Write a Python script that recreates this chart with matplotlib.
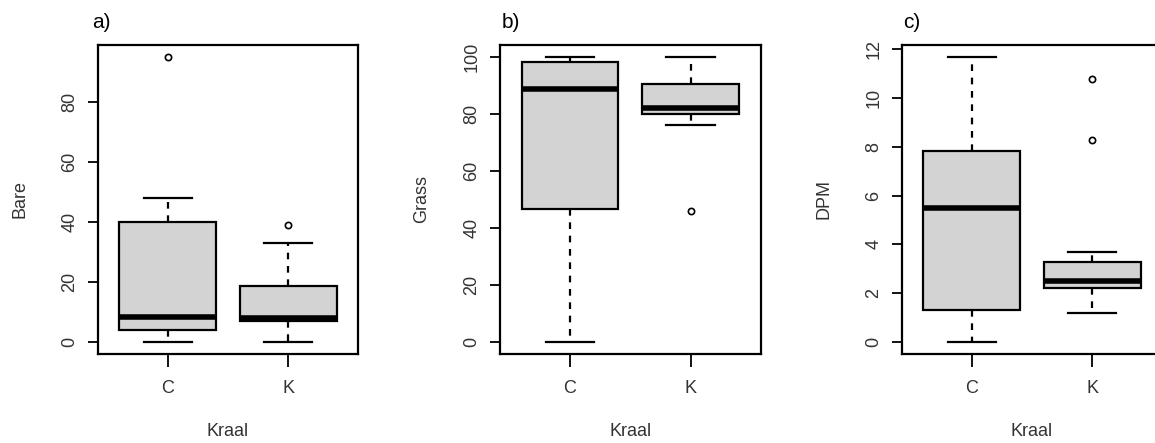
import matplotlib
matplotlib.use("Agg")
import matplotlib.pyplot as plt

plt.rcParams["font.family"] = ["Liberation Sans", "DejaVu Sans"]

# box statistics: one entry per group (C, K)
groups = ["C", "K"]
panel_tags = ["a)", "b)", "c)"]
ylabels = ["Bare", "Grass", "DPM"]

bare_whislo = [0, 0]
bare_q1 = [4, 7]
bare_med = [8.5, 8]
bare_q3 = [40, 18.5]
bare_whishi = [48, 33]
bare_fliers = [[95], [39]]

grass_whislo = [0, 76]
grass_q1 = [46.5, 80]
grass_med = [88.5, 82]
grass_q3 = [98, 90.5]
grass_whishi = [100, 100]
grass_fliers = [[], [46]]

dpm_whislo = [0, 1.2]
dpm_q1 = [1.3, 2.2]
dpm_med = [5.5, 2.5]
dpm_q3 = [7.85, 3.28]
dpm_whishi = [11.7, 3.7]
dpm_fliers = [[], [10.8, 8.3]]

yticks = [range(0, 81, 20), range(0, 101, 20), range(0, 13, 2)]


def make_stats(whislo, q1, med, q3, whishi, fliers):
    return [dict(whislo=whislo[i], q1=q1[i], med=med[i], q3=q3[i],
                 whishi=whishi[i], fliers=fliers[i], label=groups[i])
            for i in range(len(groups))]


panels = [
    make_stats(bare_whislo, bare_q1, bare_med, bare_q3, bare_whishi, bare_fliers),
    make_stats(grass_whislo, grass_q1, grass_med, grass_q3, grass_whishi, grass_fliers),
    make_stats(dpm_whislo, dpm_q1, dpm_med, dpm_q3, dpm_whishi, dpm_fliers),
]

fig = plt.figure(figsize=(11.55, 4.43), dpi=100)
lefts = [0.0846, 0.4329, 0.7807]
tag_dx = [-0.02, 0.005, 0.005]

for k, stats in enumerate(panels):
    ax = fig.add_axes([lefts[k], 0.202, 0.2256, 0.696])
    ax.bxp(stats, positions=[1, 2], widths=0.8, capwidths=0.4, patch_artist=True,
           boxprops=dict(facecolor="#d3d3d3", edgecolor="black", linewidth=1.6),
           medianprops=dict(color="black", linewidth=4),
           whiskerprops=dict(color="black", linewidth=1.6, linestyle=(0, (3, 3))),
           capprops=dict(color="black", linewidth=1.6),
           flierprops=dict(marker="o", markerfacecolor="none", markeredgecolor="black",
                           markersize=4.5, markeredgewidth=1.2))

    # R style 4% padding on the y range
    lo = min(min(s["whislo"] for s in stats), min([f for s in stats for f in s["fliers"]] or [0]))
    hi = max(max(s["whishi"] for s in stats), max([f for s in stats for f in s["fliers"]] or [0]))
    pad = 0.04 * (hi - lo)
    ax.set_ylim(lo - pad, hi + pad)
    ax.set_xlim(0.42, 2.58)

    ax.set_yticks(list(yticks[k]))
    ax.set_xticks([1, 2])
    ax.set_xticklabels(groups)
    for lab in ax.get_yticklabels():
        lab.set_rotation(90)
        lab.set_va("center")
    ax.tick_params(axis="y", length=7, width=1.3, pad=7, labelsize=13, labelcolor="#333333")
    ax.tick_params(axis="x", length=9, width=1.3, pad=10, labelsize=13, labelcolor="#333333")
    for sp in ax.spines.values():
        sp.set_linewidth(1.6)

    ax.set_ylabel(ylabels[k], fontsize=13, color="#333333")
    ax.yaxis.set_label_coords(-0.30, 0.5)
    ax.set_xlabel("Kraal", fontsize=13, color="#333333")
    ax.xaxis.set_label_coords(0.5, -0.253)
    ax.xaxis.label.set_va("center")
    ax.yaxis.label.set_va("center")

    ax.text(tag_dx[k], 1.075, panel_tags[k], transform=ax.transAxes,
            fontsize=15, ha="left", va="center", color="black")

fig.savefig("out.png", dpi=100)
